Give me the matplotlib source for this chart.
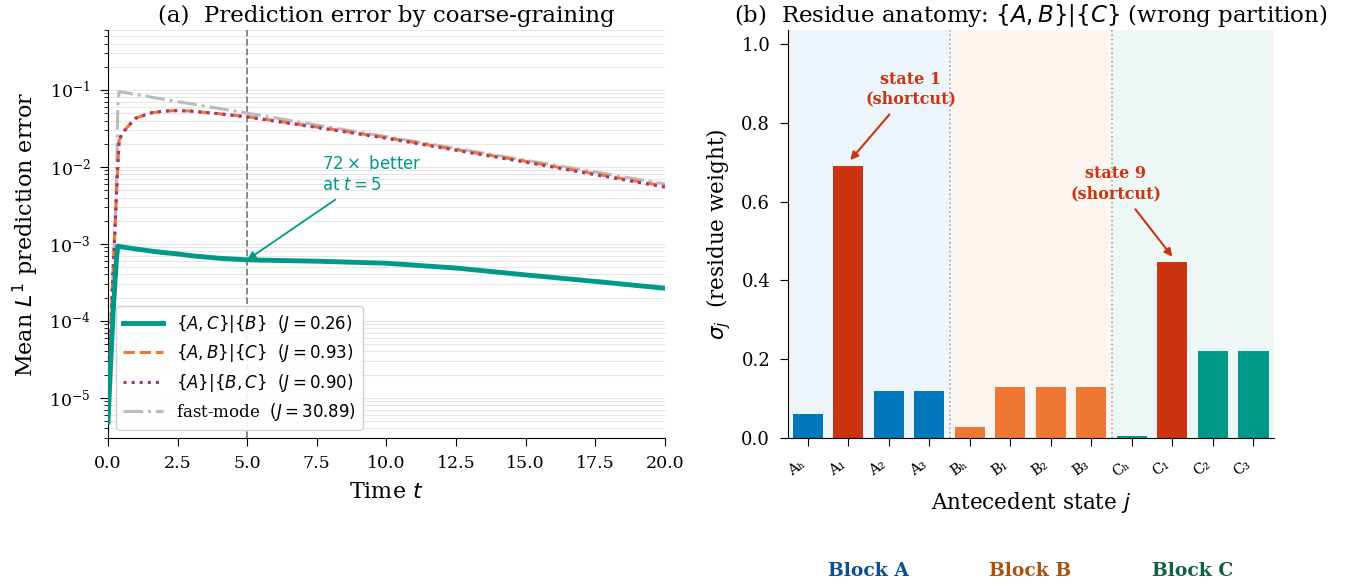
import matplotlib
matplotlib.use("Agg")
import matplotlib.pyplot as plt
from matplotlib.transforms import blended_transform_factory

plt.rcParams['font.family'] = ['DejaVu Serif', 'DejaVu Sans']
plt.rcParams['mathtext.fontset'] = 'dejavusans'

TEAL = '#009988'
ORANGE = '#EE7733'
MAGENTA = '#AA3377'
GREY = '#BBBBBB'
BLUE = '#0077BB'
RED = '#CC3311'

# ---- panel (a) data: mean L1 prediction error vs time ----
t_ac = [0, 0.1, 0.2, 0.3, 0.35, 0.5, 1, 1.5, 2, 2.5, 3, 4, 5, 6, 7.5, 10, 12.5, 15, 17.5, 20]
err_ac = [4.8e-6, 3e-5, 1.6e-4, 6e-4, 9.4e-4, 9.1e-4, 8.6e-4, 8.1e-4, 7.7e-4, 7.4e-4,
          7.0e-4, 6.5e-4, 6.2e-4, 6.1e-4, 5.95e-4, 5.6e-4, 4.85e-4, 3.95e-4, 3.25e-4, 2.65e-4]

t_ab = [0, 0.05, 0.1, 0.15, 0.2, 0.25, 0.3, 0.35, 0.4, 0.5, 0.7, 1.0, 1.5, 2.0, 2.5, 3.0,
        4.0, 5.0, 7.5, 10, 12.5, 15, 17.5, 20]
err_ab = [5e-6, 2e-5, 8e-5, 2.5e-4, 6e-4, 1.5e-3, 4e-3, 1e-2, 2.2e-2, 2.7e-2, 3.3e-2, 4.3e-2,
          5.0e-2, 5.3e-2, 5.4e-2, 5.3e-2, 4.9e-2, 4.5e-2, 3.3e-2, 2.4e-2, 1.68e-2, 1.18e-2,
          8.1e-3, 5.6e-3]
err_a_bc = [5e-6, 2e-5, 8e-5, 2.5e-4, 6e-4, 1.5e-3, 4e-3, 1e-2, 2.2e-2, 2.7e-2, 3.3e-2, 4.3e-2,
            5.0e-2, 5.3e-2, 5.4e-2, 5.3e-2, 4.9e-2, 4.45e-2, 3.25e-2, 2.35e-2, 1.64e-2, 1.15e-2,
            7.9e-3, 5.45e-3]

t_fast = [0, 0.05, 0.1, 0.15, 0.2, 0.25, 0.3, 0.33, 0.35, 0.4, 2.5, 5, 7.5, 10, 12.5, 15, 17.5, 20]
err_fast = [5e-6, 2e-5, 8e-5, 2.5e-4, 6e-4, 1.5e-3, 6e-3, 2e-2, 6e-2, 0.095, 0.0705, 0.050,
            0.035, 0.0247, 0.0174, 0.0122, 0.0086, 0.006]

labels_a = [r'$\{A,C\}|\{B\}$  $(J=0.26)$',
            r'$\{A,B\}|\{C\}$  $(J=0.93)$',
            r'$\{A\}|\{B,C\}$  $(J=0.90)$',
            r'fast-mode  $(J=30.89)$']

# ---- panel (b) data: residue weights ----
states = ['Aₕ', 'A₁', 'A₂', 'A₃', 'Bₕ', 'B₁', 'B₂', 'B₃', 'Cₕ', 'C₁', 'C₂', 'C₃']
sigma = [0.062, 0.69, 0.12, 0.12, 0.028, 0.13, 0.13, 0.13, 0.004, 0.447, 0.222, 0.222]
bar_colors = [BLUE, RED, BLUE, BLUE, ORANGE, ORANGE, ORANGE, ORANGE, TEAL, RED, TEAL, TEAL]
blocks = ['Block A', 'Block B', 'Block C']
block_fill = [BLUE, ORANGE, TEAL]
block_text = ['#0b4f94', '#a9520f', '#11604a']

fig = plt.figure(figsize=(13.55, 5.87), dpi=100)

# ================= panel (a) =================
ax = fig.add_axes([0.0797, 0.2538, 0.411, 0.695])
ax.plot(t_fast, err_fast, color=GREY, ls='-.', lw=2.2, zorder=2, label=labels_a[3])
ax.plot(t_ab, err_ab, color=ORANGE, ls='--', lw=2.2, zorder=3, label=labels_a[1])
ax.plot(t_ab, err_a_bc, color=MAGENTA, ls=':', lw=2.2, zorder=4, label=labels_a[2])
ax.plot(t_ac, err_ac, color=TEAL, lw=3.5, zorder=5, label=labels_a[0])
ax.axvline(5, color='gray', ls='--', lw=1.3, zorder=1)

ax.set_yscale('log')
ax.set_ylim(3e-6, 0.6)
ax.set_xlim(0, 20)
ax.grid(True, which='both', axis='y', color='0.9', lw=0.8)
ax.set_axisbelow(True)
for s in ['top', 'right']:
    ax.spines[s].set_visible(False)
ax.tick_params(labelsize=12.5, length=5.5, pad=7)
ax.tick_params(which='minor', length=3)
ax.set_xlabel('Time $t$', fontsize=16, labelpad=6)
ax.set_ylabel('Mean $L^1$ prediction error', fontsize=16, labelpad=6)
ax.set_title('(a)  Prediction error by coarse-graining', fontsize=16.5)

h, l = ax.get_legend_handles_labels()
order = [3, 1, 2, 0]
ax.legend([h[i] for i in order], [l[i] for i in order], loc='lower left', fontsize=12,
          handlelength=2.4, labelspacing=0.45, framealpha=0.9)

ax.annotate('$72\\times$ better\nat $t=5$', xy=(5, 6.2e-4), xytext=(7.7, 8e-3),
            color=TEAL, fontsize=12, family='DejaVu Sans', ha='left', va='center',
            arrowprops=dict(arrowstyle='-|>', color=TEAL, lw=1.3, shrinkA=4, shrinkB=0))

# ================= panel (b) =================
bx = fig.add_axes([0.5812, 0.2538, 0.3587, 0.695])
x = list(range(len(states)))
for k in range(3):
    bx.axvspan(4 * k - 0.5, 4 * k + 3.5, color=block_fill[k], alpha=0.07, lw=0, zorder=0)
for xv in [3.5, 7.5]:
    bx.axvline(xv, color='0.65', ls=':', lw=1.2, zorder=1)
bx.bar(x, sigma, width=0.75, color=bar_colors, zorder=2)
bx.set_xlim(-0.5, 11.5)
bx.set_ylim(0, 1.035)
bx.set_xticks(x)
bx.set_xticklabels(states, rotation=35, ha='right', fontsize=10.5)
bx.tick_params(axis='y', labelsize=13, length=5.5, pad=7)
bx.tick_params(axis='x', length=6, pad=8)
for s in ['top', 'right']:
    bx.spines[s].set_visible(False)
bx.set_xlabel('Antecedent state $j$', fontsize=15.5, labelpad=8)
bx.set_ylabel(r'$\sigma_j$  (residue weight)', fontsize=15.5, labelpad=6)
bx.set_title(r'(b)  Residue anatomy: $\{A,B\}|\{C\}$ (wrong partition)', fontsize=16.5)

bx.annotate('state 1\n(shortcut)', xy=(1.05, 0.705), xytext=(2.55, 0.885),
            color=RED, fontsize=11.5, fontweight='bold', ha='center', va='center',
            arrowprops=dict(arrowstyle='-|>', color=RED, lw=1.5, shrinkA=4, shrinkB=0))
bx.annotate('state 9\n(shortcut)', xy=(9, 0.46), xytext=(7.6, 0.645),
            color=RED, fontsize=11.5, fontweight='bold', ha='center', va='center',
            arrowprops=dict(arrowstyle='-|>', color=RED, lw=1.5, shrinkA=4, shrinkB=0))

tr = blended_transform_factory(bx.transData, bx.transAxes)
for k in range(3):
    bx.text(4 * k + 1.5, -0.325, blocks[k], transform=tr, ha='center', va='center',
            fontsize=13.5, fontweight='bold', color=block_text[k])

fig.savefig('out.png', dpi=100)
